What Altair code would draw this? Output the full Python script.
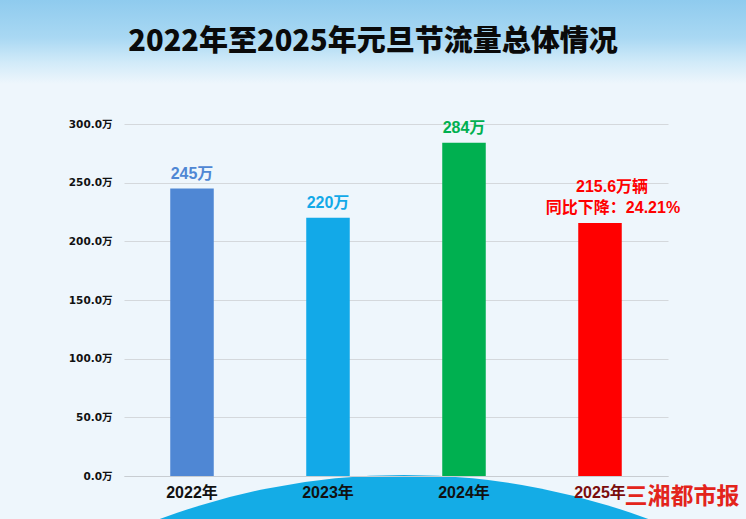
import altair as alt
import pandas as pd

years = ["2022年", "2023年", "2024年", "2025年"]
values = [245, 220, 284, 215.6]
labels_top = ["", "", "", "215.6万辆"]
labels_main = ["245万", "220万", "284万", "同比下降：24.21%"]
colors = ["#4f87d4", "#12a9e8", "#00b050", "#ff0000"]
y_ticks = [0, 50, 100, 150, 200, 250, 300]
title_text = "2022年至2025年元旦节流量总体情况"

df = pd.DataFrame({"year": years, "value": values, "top": labels_top,
                   "main": labels_main, "color": colors})
one = pd.DataFrame({"k": [0]})

FONT = "Liberation Sans, Noto Sans CJK SC, sans-serif"

x_enc = alt.X("year:N", sort=years, title=None,
              scale=alt.Scale(paddingInner=0.68, paddingOuter=0.34),
              axis=alt.Axis(labelAngle=0, labelFontSize=16, labelFontWeight="bold",
                            labelFont=FONT, ticks=False, labelPadding=8,
                            domainColor="#c8cdd2", zindex=2,
                            labelColor=alt.ExprRef("datum.value == '2025年' ? '#7a0c0c' : '#111111'")))
y_enc = alt.Y("value:Q", title=None,
              scale=alt.Scale(domain=[0, 300]),
              axis=alt.Axis(values=y_ticks, labelExpr="format(datum.value, '.1f') + '万'",
                            labelFontSize=10.5, labelFontWeight="bold", labelFont="DejaVu Sans, Noto Sans CJK SC",
                            labelColor="#111111", ticks=False, domain=False, labelPadding=12,
                            gridColor="#d4d8dc", gridWidth=1))

top_band = alt.Chart(one).mark_rect(
    color=alt.Gradient(gradient="linear", x1=0, y1=0, x2=0, y2=1,
                       stops=[alt.GradientStop(color="#8fcbee", offset=0),
                              alt.GradientStop(color="#a9d8f3", offset=0.45),
                              alt.GradientStop(color="#d2ebf9", offset=0.75),
                              alt.GradientStop(color="#eef6fc", offset=1)])
).encode(x=alt.value(-124), x2=alt.value(622), y=alt.value(-124), y2=alt.value(-40))

bottom_arc = alt.Chart(one).mark_arc(color="#14ace6", radius=700, theta=0, theta2=6.2832).encode(
    x=alt.value(280), y=alt.value(1051))

bars = alt.Chart(df).mark_bar().encode(
    x=x_enc, y=y_enc,
    color=alt.Color("color:N", scale=None))

base_text = alt.Chart(df).encode(
    x=alt.X("year:N", sort=years), y="value:Q",
    color=alt.Color("color:N", scale=None))

texts_main = base_text.transform_filter("datum.year != '2025年'").mark_text(
    baseline="bottom", dy=-7, fontSize=16, fontWeight="bold", font=FONT).encode(text="main:N")

texts_2025_main = base_text.transform_filter("datum.year == '2025年'").mark_text(
    baseline="bottom", dy=-7, dx=13, fontSize=16, fontWeight="bold", font=FONT).encode(text="main:N")

texts_2025_top = base_text.transform_filter("datum.year == '2025年'").mark_text(
    baseline="bottom", dy=-28, dx=12, fontSize=16, fontWeight="bold", font=FONT).encode(text="top:N")

watermark = alt.Chart(one).mark_text(text="三湘都市报", fontSize=23, fontWeight="bold",
                                     font="Noto Sans CJK SC", color="#e3241b").encode(
    x=alt.value(558), y=alt.value(373))

title = alt.Chart(one).mark_text(text=title_text, fontSize=29, fontWeight=900,
                                 font="Noto Sans CJK SC", color="#0a0a0a").encode(
    x=alt.value(249), y=alt.value(-82))

chart = alt.layer(top_band, bottom_arc, bars, texts_main, texts_2025_main, texts_2025_top,
                  watermark, title).properties(
    width=544, height=352,
    padding={"left": 124, "top": 124, "right": 78, "bottom": 43},
    autosize=alt.AutoSizeParams(type="none"),
    background="#eef6fc"
).configure_view(stroke=None)

chart.save("out.html", embed_options={"renderer": "svg", "actions": False})
